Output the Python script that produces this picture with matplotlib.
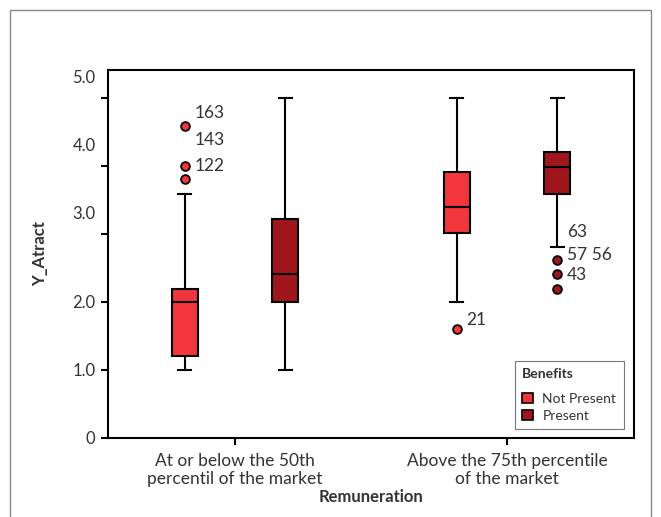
import matplotlib
matplotlib.use("Agg")
import matplotlib.pyplot as plt
import matplotlib.transforms as mtransforms
from matplotlib.patches import Patch, Rectangle

plt.rcParams["font.family"] = ["Lato", "DejaVu Sans"]
TEXT = "#333333"
NOT_PRESENT = "#F2363B"
PRESENT = "#A0161C"

# ---- data -------------------------------------------------------------------
groups = ["At or below the 50th\npercentil of the market",
          "Above the 75th percentile\nof the market"]
benefits = ["Not Present", "Present"]

# per box: (group index, benefit index)
box_group = [0, 0, 1, 1]
box_benefit = [0, 1, 0, 1]
whislo = [1.0, 1.0, 2.0, 2.81]
q1 = [1.2, 2.0, 3.02, 3.59]
med = [2.0, 2.41, 3.4, 3.99]
q3 = [2.19, 3.22, 3.91, 4.2]
whishi = [3.59, 5.0, 5.0, 5.0]
fliers = [[4.59, 4.0, 3.81], [], [1.6], [2.61, 2.41, 2.19]]

# case labels next to outliers: (box index, outlier value, label)
case_box = [0, 0, 0, 2, 3, 3, 3]
case_val = [4.59, 4.59, 4.0, 1.6, 2.61, 2.61, 2.41]
case_txt = ["163", "143", "122", "21", "63", "57 56", "43"]
case_dy = [13, -14, 0, 9, 28, 5, -1]   # vertical pixel shift of each label

yticks = [0, 1, 2, 3, 4, 5]
ytick_labels = ["0", "1.0", "2.0", "3.0", "4.0", "5.0"]

# ---- figure -----------------------------------------------------------------
fig = plt.figure(figsize=(6.61, 5.17), dpi=100)
ax = fig.add_axes([108 / 661, 79 / 517, 526 / 661, 368 / 517])

offset = 0.184
width = 0.096
colors = [NOT_PRESENT, PRESENT]
positions = [g + (offset if b else -offset) for g, b in zip(box_group, box_benefit)]

stats = [dict(whislo=whislo[i], q1=q1[i], med=med[i], q3=q3[i], whishi=whishi[i],
              fliers=fliers[i]) for i in range(len(q1))]
for i, st in enumerate(stats):
    col = colors[box_benefit[i]]
    ax.bxp([st], positions=[positions[i]], widths=width, patch_artist=True,
           showfliers=True, manage_ticks=False,
           boxprops=dict(facecolor=col, edgecolor="black", linewidth=1.5),
           medianprops=dict(color="black", linewidth=1.5),
           whiskerprops=dict(color="black", linewidth=1.5),
           capprops=dict(color="black", linewidth=1.5),
           capwidths=width / 2,
           flierprops=dict(marker="o", markerfacecolor=col, markeredgecolor="black",
                           markeredgewidth=1.3, markersize=6.3, linestyle="none"))

for b, v, t, dy in zip(case_box, case_val, case_txt, case_dy):
    ax.annotate(t, (positions[b], v), xytext=(7, dy * 0.72), textcoords="offset points",
                ha="left", va="center", fontsize=12.5, color=TEXT)

ax.set_xlim(-0.467, 1.467)
ax.set_ylim(0, 5.41)
ax.set_xticks([0, 1])
ax.set_xticklabels(groups, fontsize=12.5, color=TEXT, linespacing=1.15)
ax.set_yticks(yticks)
ax.set_yticklabels(ytick_labels, fontsize=12, color=TEXT)
ax.tick_params(axis="both", direction="out", length=5, width=1.5, pad=4)
ax.tick_params(axis="x", pad=6)

# the upper tick labels sit a little above their ticks in the original
shift = mtransforms.ScaledTranslation(0, 21 / 100, fig.dpi_scale_trans)
for lab in ax.get_yticklabels()[3:]:
    lab.set_transform(lab.get_transform() + shift)

for sp in ax.spines.values():
    sp.set_linewidth(1.5)
    sp.set_color("black")

ax.set_xlabel("Remuneration", fontsize=12, fontweight="bold", color=TEXT, labelpad=1.5)
ax.set_ylabel("Y_Atract", fontsize=12, fontweight="bold", color=TEXT)
ax.yaxis.set_label_coords(-0.114, 0.5)

handles = [Patch(facecolor=c, edgecolor="black", linewidth=1.2, label=l)
           for c, l in zip(colors, benefits)]
leg = ax.legend(handles=handles, title="Benefits", loc="lower right",
                bbox_to_anchor=(0.981, 0.024), borderaxespad=0, fancybox=False,
                framealpha=1, edgecolor="#777777", fontsize=10, handlelength=0.75,
                handleheight=0.75, handletextpad=0.7, labelspacing=0.35,
                borderpad=0.55, alignment="left")
leg._legend_box.sep = 9
leg.get_title().set_fontweight("bold")
leg.get_title().set_fontsize(10)
leg.get_title().set_color(TEXT)
for t in leg.get_texts():
    t.set_color(TEXT)
leg.get_frame().set_linewidth(0.8)

# outer border of the original graph frame
fig.patches.append(Rectangle((10 / 661, -0.05), 641 / 661, 1.05 - 10 / 517,
                             transform=fig.transFigure, fill=False,
                             edgecolor="#888888", linewidth=1.0))

fig.savefig("out.png", dpi=100, facecolor="white")
